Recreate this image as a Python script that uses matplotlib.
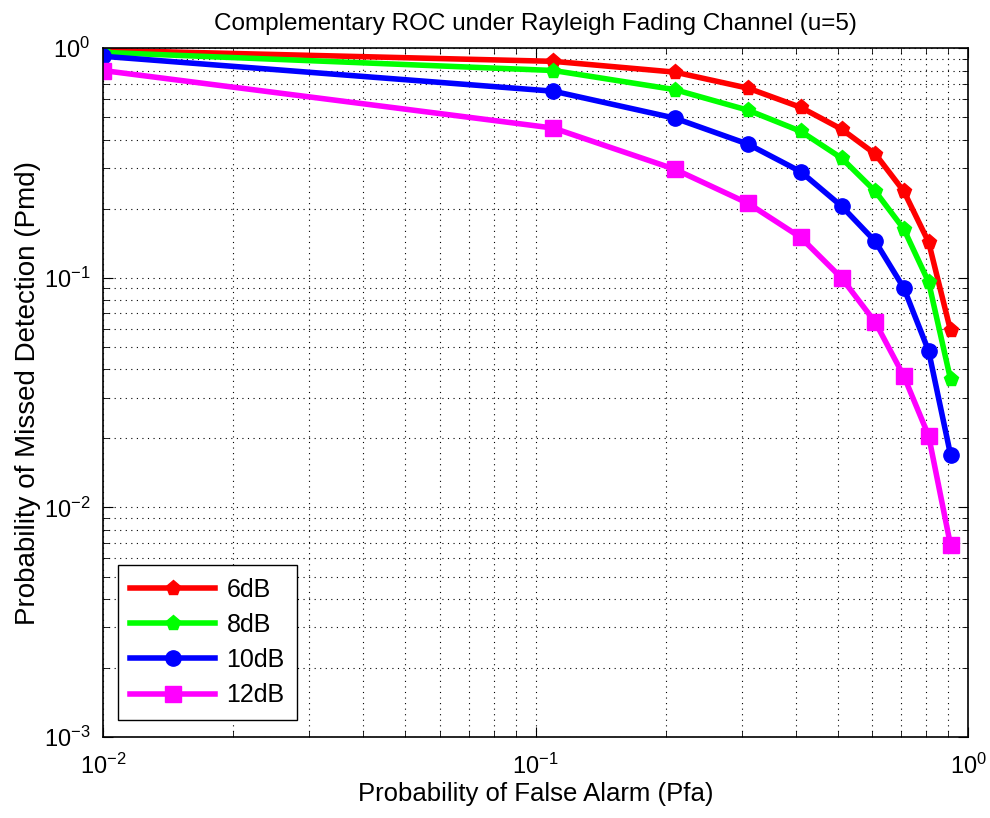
import matplotlib
matplotlib.use('Agg')
import matplotlib.pyplot as plt

plt.rcParams['font.family'] = ['Liberation Sans', 'DejaVu Sans']

# Pfa values
pfa = [0.01, 0.11, 0.21, 0.31, 0.41, 0.51, 0.61, 0.71, 0.81, 0.91]

# Pmd for each SNR
pmd_6db = [0.98, 0.877, 0.787, 0.67, 0.553, 0.444, 0.346, 0.238, 0.143, 0.059]
pmd_8db = [0.96, 0.80, 0.66, 0.537, 0.435, 0.332, 0.238, 0.163, 0.0958, 0.0362]
pmd_10db = [0.923, 0.65, 0.496, 0.382, 0.29, 0.205, 0.144, 0.0902, 0.048, 0.017]
pmd_12db = [0.80, 0.449, 0.297, 0.211, 0.150, 0.0997, 0.064, 0.0373, 0.0205, 0.00686]

labels = ['6dB', '8dB', '10dB', '12dB']
colors = ['#ff0000', '#00ff00', '#0000ff', '#ff00ff']
markers = ['p', 'p', 'o', 's']

fig = plt.figure(figsize=(9.9, 8.18), dpi=100)
ax = fig.add_axes([0.104, 0.099, 0.874, 0.842])

for ys, lab, c, m in zip([pmd_6db, pmd_8db, pmd_10db, pmd_12db], labels, colors, markers):
    ax.plot(pfa, ys, '-', marker=m, color=c, lw=4, ms=11, label=lab)

ax.set_xscale('log')
ax.set_yscale('log')
ax.set_xlim(1e-2, 1e0)
ax.set_ylim(1e-3, 1e0)

ax.grid(True, which='both', linestyle=(0, (1, 4)), color='black', lw=0.8)
ax.tick_params(which='both', direction='in', top=True, right=True, labelsize=17)
ax.tick_params(which='major', length=7)
ax.tick_params(which='minor', length=4)
ax.tick_params(axis='x', which='major', pad=12)
ax.tick_params(axis='y', which='major', pad=9)
for s in ax.spines.values():
    s.set_linewidth(1.2)

ax.set_title('Complementary ROC under Rayleigh Fading Channel (u=5)', fontsize=17.5, pad=13)
ax.set_xlabel('Probability of False Alarm (Pfa)', fontsize=18.5, labelpad=2)
ax.set_ylabel('Probability of Missed Detection (Pmd)', fontsize=20, labelpad=2)

leg = ax.legend(loc='lower left', fontsize=18, fancybox=False, edgecolor='black',
                framealpha=1, borderpad=0.5, handlelength=3.4, labelspacing=0.45,
                handletextpad=0.45, borderaxespad=0, bbox_to_anchor=(0.017, 0.025))
leg.get_frame().set_linewidth(1.0)

fig.savefig('out.png', dpi=100)
